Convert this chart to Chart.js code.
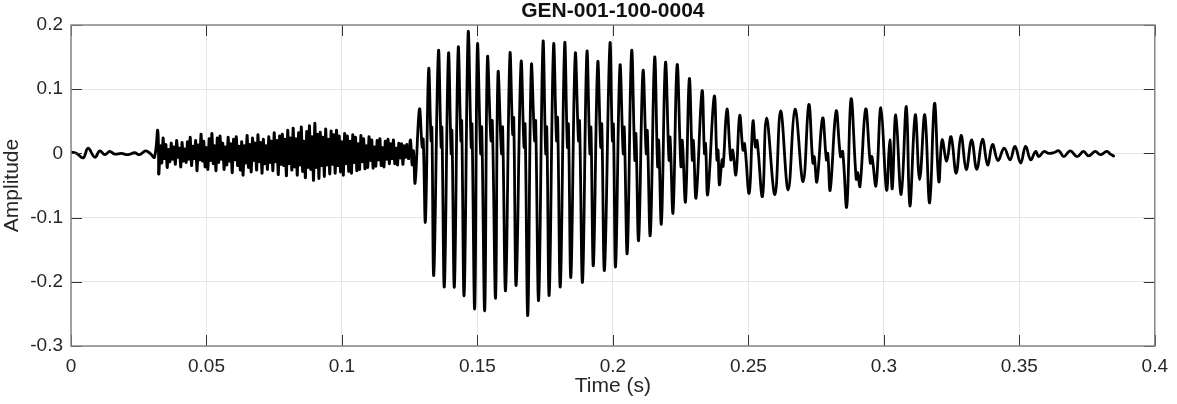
<!DOCTYPE html>
<html>
<head>
<meta charset="utf-8">
<title>GEN-001-100-0004</title>
<script src="https://cdn.jsdelivr.net/npm/chart.js@4.4.1/dist/chart.umd.min.js"></script>
<style>
  html, body { margin: 0; padding: 0; background: #fff; }
  #wrap { width: 1177px; height: 404px; }
</style>
</head>
<body>
<div id="wrap"><canvas id="wave" width="1177" height="404"></canvas></div>
<script>
/* ---- data (time in ms, amplitude) ---- */
const chartTitle = 'GEN-001-100-0004';
const xTickValues = [0, 0.05, 0.1, 0.15, 0.2, 0.25, 0.3, 0.35, 0.4];
const xTickLabels = ['0', '0.05', '0.1', '0.15', '0.2', '0.25', '0.3', '0.35', '0.4'];
const yTickValues = [-0.3, -0.2, -0.1, 0, 0.1, 0.2];
const yTickLabels = ['-0.3', '-0.2', '-0.1', '0', '0.1', '0.2'];

// quiet lead-in and the first click
const leadSamples = [
  [0.0, 0.002], [2.1, 0.000], [4.5, -0.007], [6.3, 0.008], [8.8, -0.006], [10.6, 0.004],
  [12.5, -0.002], [14.3, 0.003], [16.1, -0.001], [18.6, 0.000], [21.0, -0.002], [23.5, 0.001],
  [25.3, -0.002], [27.5, 0.004], [29.2, 0.000], [30.8, -0.006], [32.0, 0.036], [32.4, -0.032]
];

// fricative noise, one value every 0.5 ms from 33 ms
const noiseStartMs = 33;
const noiseStepMs = 0.5;
const noiseAmps = [
  0.012, -0.015, 0.024, -0.008, 0.014, -0.022, 0.006, -0.013, 0.016, -0.009,
  0.010, -0.017, 0.020, -0.006, 0.008, -0.021, 0.017, -0.012, 0.007, -0.014,
  0.018, -0.009, 0.025, -0.019, 0.011, -0.008, 0.020, -0.027, 0.013, -0.010,
  0.030, -0.012, 0.019, -0.021, 0.009, -0.025, 0.023, -0.011, 0.031, -0.016,
  0.012, -0.027, 0.024, -0.014, 0.027, -0.009, 0.016, -0.025, 0.010, -0.018,
  0.025, -0.012, 0.015, -0.030, 0.022, -0.010, 0.026, -0.019, 0.011, -0.026,
  0.018, -0.034, 0.012, -0.015, 0.028, -0.022, 0.014, -0.029, 0.024, -0.011,
  0.016, -0.026, 0.029, -0.013, 0.017, -0.031, 0.022, -0.016, 0.012, -0.025,
  0.026, -0.014, 0.019, -0.027, 0.032, -0.013, 0.020, -0.033, 0.027, -0.017,
  0.030, -0.019, 0.022, -0.035, 0.036, -0.016, 0.024, -0.026, 0.039, -0.021,
  0.023, -0.034, 0.032, -0.018, 0.041, -0.028, 0.019, -0.038, 0.034, -0.022,
  0.043, -0.025, 0.026, -0.042, 0.047, -0.022, 0.030, -0.039, 0.033, -0.019,
  0.025, -0.036, 0.038, -0.018, 0.022, -0.032, 0.035, -0.017, 0.029, -0.031,
  0.036, -0.019, 0.027, -0.029, 0.018, -0.034, 0.031, -0.016, 0.027, -0.028,
  0.019, -0.031, 0.029, -0.014, 0.025, -0.027, 0.015, -0.025, 0.028, -0.013,
  0.023, -0.024, 0.012, -0.022, 0.026, -0.011, 0.021, -0.023, 0.010, -0.020,
  0.020, -0.010, 0.023, -0.019, 0.009, -0.021, 0.019, -0.009, 0.022, -0.016,
  0.015, -0.008, 0.021, -0.016, 0.008, -0.018, 0.016, -0.007, 0.015, -0.017,
  0.012, -0.006, 0.014
];

// voiced part: peaks, shoulders and troughs
const voicedSamples = [
  [124.6, -0.008], [125.3, 0.021], [125.9, -0.018], [126.4, 0.004], [127.0, -0.046],
  [128.6, 0.069], [129.6, 0.010], [130.0, 0.022], [130.8, -0.106],
  [132.0, 0.131], [132.9, 0.020], [133.2, 0.040], [133.9, -0.189],
  [135.6, 0.158], [136.6, 0.010], [136.9, 0.040], [137.8, -0.207],
  [139.3, 0.154], [140.3, 0.000], [140.6, 0.035], [141.5, -0.207],
  [142.9, 0.163], [143.9, 0.020], [144.2, 0.050], [145.1, -0.220],
  [146.6, 0.190], [147.7, 0.010], [148.0, 0.045], [149.0, -0.241],
  [150.0, 0.168], [151.2, 0.000], [151.6, 0.040], [152.7, -0.244],
  [153.7, 0.148], [155.0, 0.020], [155.5, 0.050], [156.7, -0.225],
  [157.6, 0.125], [158.9, 0.000], [159.3, 0.040], [160.4, -0.213],
  [162.0, 0.154], [163.0, 0.030], [163.4, 0.055], [164.3, -0.205],
  [166.1, 0.141], [167.2, 0.010], [167.6, 0.045], [168.6, -0.252],
  [169.9, 0.136], [171.1, 0.020], [171.5, 0.050], [172.6, -0.228],
  [174.2, 0.172], [175.2, 0.000], [175.6, 0.040], [176.5, -0.220],
  [178.1, 0.168], [179.2, 0.020], [179.6, 0.055], [180.6, -0.207],
  [182.2, 0.170], [183.2, 0.010], [183.6, 0.045], [184.5, -0.192],
  [186.1, 0.154], [187.3, 0.020], [187.7, 0.050], [188.8, -0.200],
  [190.4, 0.157], [191.5, 0.000], [191.9, 0.040], [192.8, -0.174],
  [194.4, 0.141], [195.5, 0.010], [195.9, 0.045], [196.9, -0.181],
  [198.9, 0.170], [199.8, 0.020], [200.2, 0.045], [201.0, -0.176],
  [202.6, 0.136], [203.8, 0.000], [204.2, 0.040], [205.3, -0.155],
  [206.9, 0.159], [208.1, -0.010], [208.5, 0.030], [209.5, -0.135],
  [211.1, 0.128], [212.3, 0.000], [212.7, 0.035], [213.8, -0.127],
  [215.4, 0.149], [216.5, -0.020], [216.9, 0.020], [217.9, -0.109],
  [219.4, 0.141], [220.7, -0.010], [221.1, 0.025], [222.2, -0.092],
  [223.7, 0.138], [225.1, -0.020], [225.6, 0.020], [226.8, -0.075],
  [228.2, 0.116], [229.3, -0.010], [229.7, 0.020], [230.7, -0.069],
  [232.9, 0.097], [233.8, 0.000], [234.2, 0.015], [235.0, -0.064],
  [237.4, 0.089], [238.4, -0.010], [238.8, 0.005], [239.3, -0.049],
  [240.3, -0.010], [240.7, -0.020], [242.1, 0.069], [243.5, -0.010], [244.2, 0.005], [245.4, -0.033],
  [246.8, 0.059], [248.0, 0.005], [248.6, 0.015], [250.3, -0.062],
  [251.7, 0.050], [252.6, 0.010], [253.2, 0.020], [255.2, -0.067],
  [256.7, 0.055], [259.8, -0.064], [261.9, 0.066], [264.7, -0.057],
  [267.2, 0.069], [270.2, -0.044], [272.3, 0.076], [273.8, -0.015], [274.3, -0.005], [275.3, -0.044],
  [277.4, 0.055], [278.8, -0.010], [279.3, 0.000], [280.2, -0.057],
  [282.4, 0.066], [284.0, -0.005], [284.8, 0.003], [286.3, -0.083],
  [287.9, 0.085], [289.8, -0.040], [290.3, -0.030], [291.2, -0.051],
  [293.3, 0.069], [295.0, -0.015], [295.6, -0.005], [297.1, -0.050],
  [298.9, 0.071], [301.0, -0.057], [302.2, 0.021], [303.1, -0.055],
  [304.4, 0.060], [306.4, -0.064], [308.3, 0.073], [309.6, -0.082],
  [311.6, 0.060], [313.2, -0.041], [315.1, 0.060], [316.9, -0.077],
  [318.7, 0.078], [320.3, -0.044], [321.5, 0.021], [323.2, -0.012],
  [324.8, 0.026], [326.7, -0.031], [328.5, 0.028], [330.4, -0.025],
  [332.4, 0.021], [334.3, -0.025], [336.4, 0.022], [338.3, -0.018],
  [340.1, 0.014], [342.1, -0.011], [344.4, 0.008], [346.6, -0.010],
  [348.4, 0.011], [350.5, -0.015], [352.3, 0.011], [354.2, -0.010],
  [356.0, 0.003], [357.2, -0.005], [359.1, 0.003], [360.9, 0.000],
  [362.7, 0.001], [364.6, 0.004], [366.4, -0.005], [368.8, 0.004],
  [371.3, -0.005], [373.7, 0.003], [375.6, -0.004], [378.0, 0.003],
  [379.9, -0.002], [382.3, 0.003], [383.6, -0.001], [384.8, -0.004]
];

/* ---- build series (ms -> s) ---- */
const toPoint = ([t, a]) => ({ x: t / 1000, y: a });
const leadPoints = leadSamples.map(toPoint);
const voicedPoints = voicedSamples.map(toPoint);
// noise is drawn straight (no smoothing) so the band stays dense; it shares
// its end samples with the smooth parts so the trace is continuous
const noisePoints = [leadPoints[leadPoints.length - 1]]
    .concat(noiseAmps.map((a, i) => ({ x: (noiseStartMs + i * noiseStepMs) / 1000, y: a })))
    .concat([voicedPoints[0]]);
const smoothPoints = leadPoints.concat([{ x: NaN, y: null }], voicedPoints);

const TICK_LEN = 11;
const FONT = '"Liberation Sans", Arial, sans-serif';

// MATLAB style box, inward ticks on all sides, title centred over the axes
const matlabFrame = {
    id: 'matlabFrame',
    afterDatasetsDraw(chart) {
        const { ctx, chartArea: a, scales: { x, y } } = chart;
        ctx.save();
        ctx.strokeStyle = '#333';
        ctx.lineWidth = 1;
        ctx.beginPath();
        xTickValues.forEach(v => {
            const px = Math.round(x.getPixelForValue(v)) + 0.5;
            ctx.moveTo(px, a.bottom); ctx.lineTo(px, a.bottom - TICK_LEN);
            ctx.moveTo(px, a.top); ctx.lineTo(px, a.top + TICK_LEN);
        });
        yTickValues.forEach(v => {
            const py = Math.round(y.getPixelForValue(v)) + 0.5;
            ctx.moveTo(a.left, py); ctx.lineTo(a.left + TICK_LEN, py);
            ctx.moveTo(a.right, py); ctx.lineTo(a.right - TICK_LEN, py);
        });
        ctx.stroke();

        ctx.strokeStyle = '#868686';
        ctx.lineWidth = 1.5;
        ctx.strokeRect(a.left, a.top, a.right - a.left, a.bottom - a.top);

        ctx.fillStyle = '#111';
        ctx.font = 'bold 21px ' + FONT;
        ctx.textAlign = 'center';
        ctx.textBaseline = 'middle';
        ctx.fillText(chartTitle, (a.left + a.right) / 2, 11.5);
        ctx.restore();
    }
};

const lineStyle = {
    borderColor: '#000',
    borderWidth: 2.8,
    borderJoinStyle: 'round',
    borderCapStyle: 'round',
    pointRadius: 0,
    fill: false,
    spanGaps: false
};

new Chart(document.getElementById('wave'), {
    type: 'line',
    data: {
        datasets: [
            Object.assign({ data: noisePoints, tension: 0 }, lineStyle, { borderWidth: 3 }),
            Object.assign({ data: smoothPoints, tension: 0.4 }, lineStyle)
        ]
    },
    options: {
        responsive: false,
        animation: false,
        parsing: false,
        layout: { padding: { top: 25, right: 15, left: 0, bottom: 0 } },
        plugins: { legend: { display: false }, tooltip: { enabled: false }, title: { display: false } },
        scales: {
            x: {
                type: 'linear',
                min: 0,
                max: 0.4,
                afterBuildTicks: s => { s.ticks = xTickValues.map(v => ({ value: v })); },
                afterFit: s => { s.height = 58; },
                grid: { color: '#e6e6e6', drawTicks: false },
                border: { display: false },
                ticks: {
                    padding: 9,
                    color: '#262626',
                    font: { family: FONT, size: 19 },
                    maxRotation: 0,
                    callback: (v, i) => xTickLabels[i]
                },
                title: {
                    display: true,
                    text: 'Time (s)',
                    color: '#262626',
                    font: { family: FONT, size: 21 },
                    padding: { top: 0, bottom: 5 }
                }
            },
            y: {
                type: 'linear',
                min: -0.3,
                max: 0.2,
                afterBuildTicks: s => { s.ticks = yTickValues.map(v => ({ value: v })); },
                afterFit: s => { s.width = 71; },
                grid: { color: '#e6e6e6', drawTicks: false },
                border: { display: false },
                ticks: {
                    padding: 8,
                    color: '#262626',
                    font: { family: FONT, size: 19 },
                    callback: (v, i) => yTickLabels[i]
                },
                title: {
                    display: true,
                    text: 'Amplitude',
                    color: '#262626',
                    font: { family: FONT, size: 21 },
                    padding: { top: 0, bottom: 0 }
                }
            }
        }
    },
    plugins: [matlabFrame]
});
</script>
</body>
</html>
